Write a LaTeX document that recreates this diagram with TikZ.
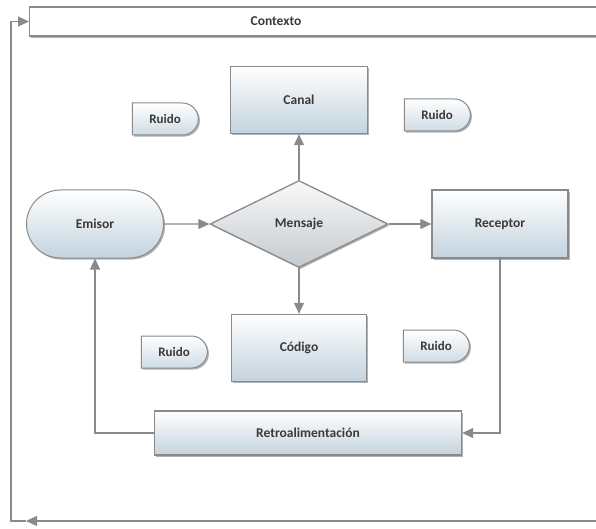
\documentclass[tikz,border=0pt]{standalone}
\usepackage{fontspec}
\setmainfont{Carlito}
\usetikzlibrary{shapes.geometric,shapes.misc,shadows,arrows.meta}
\definecolor{boxblue}{HTML}{C3D3DE}
\definecolor{edgegray}{HTML}{8A8A8A}
\definecolor{txtgray}{HTML}{3A3A3A}
\definecolor{diagray}{HTML}{C4CACF}
\tikzset{
  base/.style={draw=edgegray, line width=1.3pt, text=txtgray,
    font=\fontsize{13.5}{16}\selectfont\bfseries, inner sep=0pt,
    drop shadow={shadow xshift=1.6pt, shadow yshift=-1.6pt, fill=black!55, opacity=.55}},
  box/.style={base, rectangle, top color=white, bottom color=boxblue},
  capsule/.style={base, rounded rectangle, line width=1pt, top color=white, bottom color=boxblue},
  noise/.style={base, rounded rectangle, rounded rectangle left arc=none, line width=1pt,
    top color=white, bottom color=boxblue!80, minimum width=66pt, minimum height=32pt,
    font=\fontsize{13}{15}\selectfont\bfseries},
  choice/.style={base, diamond, top color=gray!5, bottom color=diagray},
  ctxbox/.style={base, rectangle, fill=white},
  lbl/.style={text=txtgray, font=\fontsize{13.5}{16}\selectfont\bfseries, inner sep=0pt},
  flow/.style={draw=edgegray, line width=1.2pt, -{Triangle[length=11pt,width=10pt]}}
}
\begin{document}
\begin{tikzpicture}[x=1pt,y=-1pt]
\useasboundingbox (0,0) rectangle (596,529);
\node[ctxbox, anchor=west, minimum width=640pt, minimum height=29pt] (ctx) at (29,21.5) {};
\node[lbl] (ctxlabel) at (276,21) {Contexto};
\node[box, minimum width=137pt, minimum height=67pt] (canal) at (299,100) {Canal};
\node[noise] (ruido1) at (165,119) {Ruido};
\node[noise] (ruido2) at (437,115) {Ruido};
\node[capsule, minimum width=137pt, minimum height=68pt] (emisor) at (95,224) {Emisor};
\node[choice, minimum width=178pt, minimum height=87pt] (mensaje) at (299,224) {Mensaje};
\node[box, minimum width=136pt, minimum height=68pt] (receptor) at (500,224) {Receptor};
\node[box, minimum width=135pt, minimum height=67pt] (codigo) at (299,348) {Código};
\node[noise] (ruido3) at (174,352) {Ruido};
\node[noise] (ruido4) at (436,346) {Ruido};
\node[box, minimum width=307pt, minimum height=44pt] (retro) at (308,433) {Retroalimentación};
\coordinate (bl) at (26,521);
\coordinate (corner) at (11,521);
\draw[flow] (emisor) -- (mensaje);
\draw[flow] (mensaje) -- (receptor);
\draw[flow] (mensaje.north) -- (canal.south);
\draw[flow] (mensaje.south) -- (codigo.north);
\draw[flow] (receptor.south) |- (retro.east);
\draw[flow] (retro.west) -| (emisor.south);
\draw[flow] (ctx.east) -- ++(20,0) |- (bl);
\draw[flow] (bl) -- (corner) |- (ctx.west);
\end{tikzpicture}
\end{document}
